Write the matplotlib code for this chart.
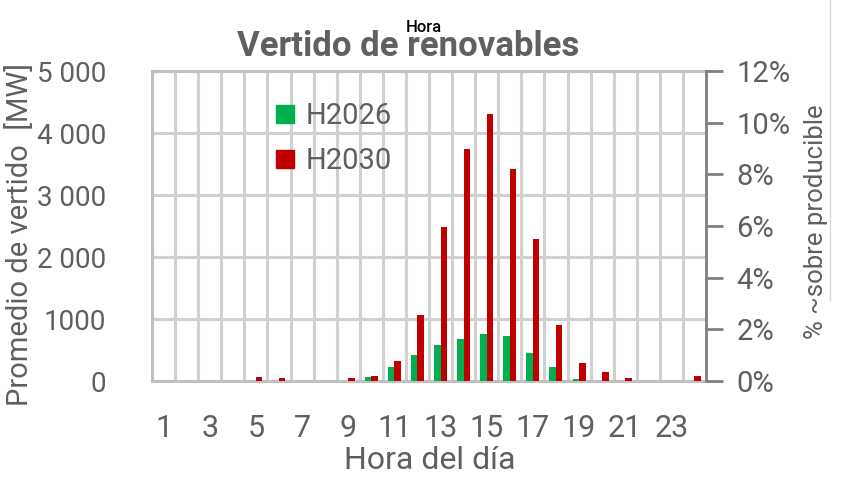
import numpy as np
import matplotlib
matplotlib.use("Agg")
import matplotlib.pyplot as plt
from matplotlib.lines import Line2D
from matplotlib.ticker import FuncFormatter, MultipleLocator

# Promedio de vertido por hora (MW)
horas = np.arange(1, 25)
h2026 = [0, 0, 0, 0, 0, 0, 0, 0, 0, 65, 220, 415, 585, 680, 755, 720, 450, 220, 30, 0, 0, 0, 0, 0]
h2030 = [0, 0, 0, 0, 60, 50, 0, 0, 50, 85, 315, 1060, 2485, 3745, 4310, 3415, 2290, 905, 295, 140, 50, 0, 0, 85]
etiquetas_x = [str(h) for h in range(1, 24, 2)]

plt.rcParams['font.family'] = ['Roboto', 'DejaVu Sans']
gris = '#5f5f5f'

fig = plt.figure(figsize=(8.55, 4.96), dpi=100)
ax = fig.add_axes([152 / 855, 1 - 381 / 496, (706 - 152) / 855, (381 - 71) / 496])

w = 0.28
ax.bar(horas - w / 2, h2026, width=w, color='#00B050', label='H2026', zorder=3)
ax.bar(horas + w / 2, h2030, width=w, color='#C00000', label='H2030', zorder=3)

ax.set_xlim(0.5, 24.5)
ax.set_ylim(0, 5000)
ax.set_xticks(range(1, 24, 2))
ax.set_xticklabels(etiquetas_x)
ax.set_xticks(np.arange(1.5, 24, 1), minor=True)
ax.set_yticks(range(0, 5001, 1000))
ax.yaxis.set_major_formatter(FuncFormatter(lambda v, p: '1000' if v == 1000 else f'{int(v):,}'.replace(',', ' ')))
ax.tick_params(axis='both', which='both', length=0, labelsize=20, labelcolor=gris)
ax.tick_params(axis='y', pad=33)
ax.tick_params(axis='x', pad=24, labelsize=22)
ax.grid(True, axis='y', color='#D0D0D0', lw=2.2, zorder=0)
ax.grid(True, axis='x', which='minor', color='#D0D0D0', lw=2.2, zorder=0)
for s in ['left', 'bottom', 'top']:
    ax.spines[s].set_color('#C0C0C0')
    ax.spines[s].set_linewidth(2.2)
ax.spines['right'].set_visible(False)

ax.set_xlabel('Hora del día', fontsize=23, color=gris)
ax.xaxis.set_label_coords(0.502, (381 - 446) / 310)
ax.set_ylabel('Promedio de vertido  [MW]', fontsize=21, color=gris)
ax.yaxis.set_label_coords((34 - 152) / 554, (381 - 234) / 310)

ax2 = ax.twinx()
ax2.set_ylim(0, 0.12)
ax2.yaxis.set_major_locator(MultipleLocator(0.02))
ax2.yaxis.set_major_formatter(FuncFormatter(lambda v, p: f'{v * 100:.0f}%'))
ax2.tick_params(axis='y', length=12, width=2, color='#808080', labelsize=21, labelcolor=gris, pad=10)
for s in ['left', 'bottom', 'top']:
    ax2.spines[s].set_visible(False)
ax2.spines['right'].set_color('#808080')
ax2.spines['right'].set_linewidth(2)
ax2.set_ylabel('% ~sobre producible', fontsize=18.5, color=gris)
ax2.yaxis.set_label_coords((804 - 152) / 554, (381 - 222) / 310)

handles = [Line2D([], [], marker='s', ls='', color='#00B050', markersize=13),
           Line2D([], [], marker='s', ls='', color='#C00000', markersize=13)]
leg = ax.legend(handles, ['H2026', 'H2030'], loc='upper left', bbox_to_anchor=(0.166, 0.985),
                frameon=False, fontsize=21, labelspacing=0.6, handletextpad=0.2,
                handlelength=1.0, labelcolor=gris)

fig.text(408 / 855, 1 - 46 / 496, 'Vertido de renovables', ha='center', va='center',
         fontsize=25, fontweight='bold', color='#606060')
fig.text(424 / 855, 1 - 28 / 496, 'Hora', ha='center', va='center',
         fontsize=12, fontweight='medium', color='black')
fig.add_artist(Line2D([830 / 855, 830 / 855], [1, 1 - 300 / 496], color='#D8D8D8', lw=1))

fig.savefig('out.png', dpi=100)
